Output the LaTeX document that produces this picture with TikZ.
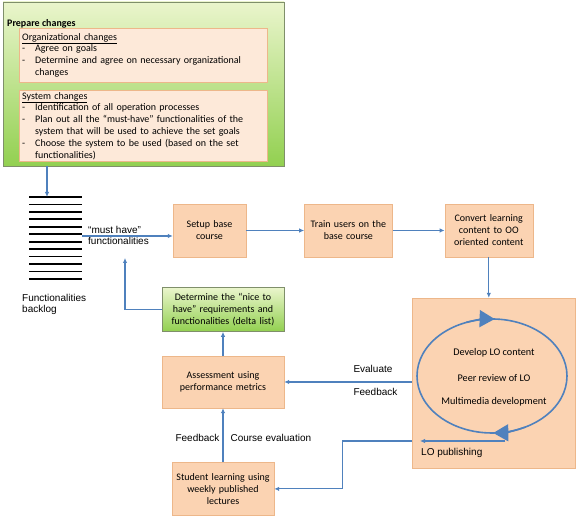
\documentclass[tikz,border=0pt]{standalone}
\usepackage{fontspec}
\setmainfont{Carlito}
\newfontfamily\labelfont{Liberation Sans}
\usetikzlibrary{arrows.meta,positioning,shadows,shapes.geometric}
\definecolor{FlowBlue}{HTML}{4F81BD}
\definecolor{PeachFill}{HTML}{FBD3B2}
\definecolor{PeachLine}{HTML}{EDB78A}
\definecolor{PeachPale}{HTML}{FDE9D9}
\definecolor{LeafTop}{HTML}{EAF5CC}
\definecolor{LeafBottom}{HTML}{92D050}
\definecolor{LeafLine}{HTML}{7F8F6A}
\setlength{\parindent}{0pt}
\newcommand{\listdash}{\makebox[13pt][l]{-}}
\newcommand{\hangpad}{\hspace*{13pt}}
\tikzset{
  >=Latex,
  softshadow/.style={drop shadow={shadow xshift=0.9pt,shadow yshift=-0.9pt,opacity=.35,fill=black}},
  stepbox/.style={draw=PeachLine,fill=PeachFill,align=center,inner xsep=2pt,inner ysep=2pt,
    font=\fontsize{10}{12}\selectfont,softshadow},
  leafbox/.style={draw=LeafLine,top color=LeafTop,bottom color=LeafBottom,softshadow},
  paperbox/.style={draw=PeachLine,fill=PeachPale,align=left,text width=242pt,inner xsep=3pt,
    inner ysep=2pt,anchor=north west,font=\fontsize{10}{11.8}\selectfont},
  sidelbl/.style={font=\labelfont\fontsize{10}{11.5}\selectfont,align=left,inner sep=1pt},
  cyclelbl/.style={font=\fontsize{10.2}{12}\selectfont,inner sep=1pt},
  flow/.style={-{Latex[length=5pt,width=4.5pt]},line width=1.1pt,draw=FlowBlue},
  cyclehead/.style={-{Triangle[length=15pt,width=17pt]},line width=1.6pt,draw=FlowBlue,fill=FlowBlue},
  backlogline/.style={line width=1.8pt,draw=black}
}
\begin{document}
\begin{tikzpicture}[x=1pt,y=1pt]
  \useasboundingbox (0,0) rectangle (576,518);

  % prepare changes block
  \node[leafbox,minimum width=281pt,minimum height=164pt] (prep) at (143.5,434) {};
  \node[anchor=west,inner sep=1pt,font=\fontsize{10}{12}\selectfont] (preptitle) at (6,494) {\textbf{Prepare changes}};
  \node[paperbox,minimum height=54pt] (orgchg) at (19,490) {\underline{Organizational changes}\\
    \listdash Agree on goals\\
    \listdash Determine and agree on necessary organizational\\
    \hangpad changes};
  \node[paperbox,minimum height=70pt] (syschg) at (19,428) {\underline{System changes}\\
    \listdash Identification of all operation processes\\
    \listdash Plan out all the “must-have” functionalities of the\\
    \hangpad system that will be used to achieve the set goals\\
    \listdash Choose the system to be used (based on the set\\
    \hangpad functionalities)};

  % backlog stack
  \foreach \i in {0,...,11}
    \draw[backlogline] (29,321-\i*7.45) -- (82,321-\i*7.45);
  \coordinate (blTop) at (47,321);
  \coordinate (blOut) at (82,282);
  \coordinate (fbTip) at (125,260);
  \node[sidelbl,anchor=north west] (backlogtxt) at (21,225) {Functionalities\\backlog};
  \node[sidelbl,anchor=north west] (mustlbl) at (87,293) {“must have”\\functionalities};

  % main course flow
  \node[stepbox,text width=69pt,minimum height=53pt] (setup) at (209.5,287.5) {Setup base\\course};
  \node[stepbox,text width=84pt,minimum height=53pt,right=58pt of setup] (train) {Train users on the\\base course};
  \node[stepbox,text width=84pt,minimum height=53pt,right=52pt of train] (convert) {Convert learning\\content to OO\\oriented content};

  % LO cycle
  \node[stepbox,minimum width=163pt,minimum height=170pt,inner sep=0pt] (lobox) at (493.5,135) {};
  \node[ellipse,draw=FlowBlue,line width=1.6pt,minimum width=150pt,minimum height=114pt,inner sep=0pt] (cycle) at (492,142) {};
  \draw[cyclehead] ([shift={(110:75 and 57)}]cycle.center) arc[start angle=110,end angle=88,x radius=75,y radius=57];
  \draw[cyclehead] ([shift={(296:75 and 57)}]cycle.center) arc[start angle=296,end angle=271,x radius=75,y radius=57];
  \node[cyclelbl] (develop) at ([xshift=2pt,yshift=23pt]cycle.center) {Develop LO content};
  \node[cyclelbl] (peer) at ([xshift=2pt,yshift=-2pt]cycle.center) {Peer review of LO};
  \node[cyclelbl] (media) at ([xshift=2pt,yshift=-26pt]cycle.center) {Multimedia development};
  \coordinate (pubFrom) at (505,77);
  \coordinate (pubTo) at (420,77);
  \node[sidelbl,anchor=west] (publbl) at ([yshift=-12pt]pubTo) {LO publishing};

  % assessment column
  \node[stepbox,text width=118pt,minimum height=52pt] (assess) at (223,136) {Assessment using\\performance metrics};
  \node[leafbox,align=center,inner xsep=2pt,inner ysep=2pt,font=\fontsize{10}{12}\selectfont,
    text width=118pt,minimum height=44pt,above=24pt of assess] (determine) {Determine the “nice to\\have” requirements and\\functionalities (delta list)};
  \node[stepbox,text width=98pt,minimum height=53pt,below=54pt of assess] (student) {Student learning using\\weekly published\\lectures};

  % connectors
  \draw[flow] (prep.south -| blTop) -- (blTop);
  \draw[flow] (blOut) -- (blOut -| setup.west);
  \draw[flow] (setup.east) -- (train.west);
  \draw[flow] (train.east) -- (convert.west);
  \draw[flow] (convert.south) -- (convert.south |- lobox.north);
  \draw[flow] (assess.east -| lobox.west) -- node[sidelbl,pos=0.469,anchor=west,yshift=13pt] (evallbl) {Evaluate}
    node[sidelbl,pos=0.469,anchor=west,yshift=-10pt] (fblbl) {Feedback} (assess.east);
  \draw[flow] (pubFrom) -- (pubTo);
  \draw[flow] (pubTo -| lobox.west) -- ++(-69,0) |- (student.east);
  \draw[flow] (student.north) -- node[sidelbl,pos=0.444,anchor=east,xshift=-2pt] (fbcourse) {Feedback}
    node[sidelbl,pos=0.444,anchor=west,xshift=6pt] (courselbl) {Course evaluation} (assess.south);
  \draw[flow] (assess.north) -- (determine.south);
  \draw[flow] (determine.west) -| (fbTip);
\end{tikzpicture}
\end{document}
